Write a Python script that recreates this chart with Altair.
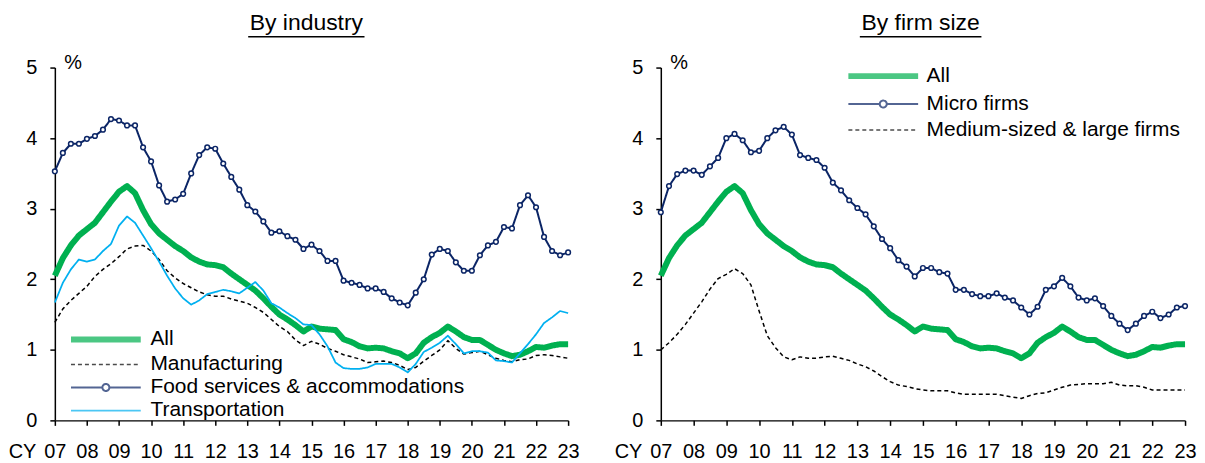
import altair as alt
import pandas as pd

FONT = "Liberation Sans"
GREEN = "#00B050"
NAVY = "#0B2566"
LIGHTBLUE = "#00B0F0"
BLACK = "#000000"

START_YEAR = 2007
year_ticks = list(range(2007, 2024))

# Quarterly values, CY2007 .. CY2023 (65 quarters)
all_firms = [2.05, 2.30, 2.48, 2.62, 2.71, 2.80, 2.95, 3.10, 3.24, 3.32,
             3.22, 2.98, 2.78, 2.65, 2.56, 2.47, 2.40, 2.31, 2.25, 2.21,
             2.20, 2.17, 2.08, 2.00, 1.92, 1.84, 1.73, 1.61, 1.50, 1.43,
             1.35, 1.26, 1.33, 1.30, 1.29, 1.28, 1.15, 1.11, 1.05, 1.02,
             1.03, 1.02, 0.98, 0.95, 0.88, 0.95, 1.10, 1.18, 1.24, 1.33,
             1.26, 1.18, 1.14, 1.14, 1.07, 1.00, 0.95, 0.91, 0.93, 0.98,
             1.04, 1.03, 1.06, 1.08, 1.08]
manufacturing = [1.39, 1.58, 1.70, 1.80, 1.90, 2.04, 2.14, 2.22, 2.32, 2.43,
                 2.47, 2.48, 2.40, 2.28, 2.12, 2.02, 1.94, 1.88, 1.82, 1.78,
                 1.76, 1.76, 1.72, 1.69, 1.66, 1.60, 1.53, 1.43, 1.33, 1.26,
                 1.14, 1.06, 1.12, 1.08, 1.02, 0.98, 0.93, 0.90, 0.87, 0.82,
                 0.83, 0.84, 0.82, 0.78, 0.72, 0.75, 0.84, 0.92, 1.00, 1.13,
                 1.02, 0.94, 0.96, 0.98, 0.93, 0.88, 0.85, 0.83, 0.86, 0.87,
                 0.92, 0.93, 0.92, 0.90, 0.88]
food_services = [3.53, 3.79, 3.92, 3.92, 3.99, 4.03, 4.12, 4.27, 4.25, 4.18,
                 4.18, 3.87, 3.67, 3.33, 3.10, 3.13, 3.21, 3.50, 3.76, 3.87,
                 3.85, 3.64, 3.45, 3.27, 3.05, 2.96, 2.82, 2.66, 2.68, 2.61,
                 2.56, 2.43, 2.49, 2.40, 2.26, 2.26, 1.98, 1.95, 1.92, 1.87,
                 1.87, 1.82, 1.73, 1.67, 1.63, 1.81, 2.00, 2.35, 2.43, 2.40,
                 2.24, 2.12, 2.12, 2.34, 2.48, 2.53, 2.74, 2.72, 3.05, 3.19,
                 3.02, 2.60, 2.40, 2.34, 2.38]
transportation = [1.67, 1.95, 2.14, 2.28, 2.25, 2.28, 2.40, 2.50, 2.76, 2.89,
                  2.80, 2.62, 2.44, 2.25, 2.05, 1.87, 1.73, 1.64, 1.70, 1.79,
                  1.82, 1.85, 1.83, 1.80, 1.88, 1.96, 1.84, 1.66, 1.60, 1.52,
                  1.45, 1.36, 1.35, 1.22, 1.05, 0.82, 0.74, 0.73, 0.73, 0.75,
                  0.80, 0.80, 0.80, 0.75, 0.68, 0.80, 0.97, 1.03, 1.10, 1.20,
                  1.08, 0.95, 0.98, 0.98, 0.96, 0.85, 0.84, 0.82, 0.95, 1.08,
                  1.22, 1.38, 1.46, 1.55, 1.52]
micro_firms = [2.95, 3.32, 3.49, 3.54, 3.54, 3.48, 3.60, 3.72, 4.00, 4.06,
               3.97, 3.80, 3.82, 4.00, 4.11, 4.16, 4.05, 3.76, 3.72, 3.69,
               3.58, 3.37, 3.26, 3.12, 3.01, 2.92, 2.75, 2.57, 2.44, 2.27,
               2.18, 2.04, 2.16, 2.16, 2.10, 2.08, 1.85, 1.85, 1.79, 1.76,
               1.76, 1.80, 1.74, 1.70, 1.60, 1.50, 1.61, 1.85, 1.90, 2.02,
               1.90, 1.74, 1.70, 1.73, 1.62, 1.48, 1.37, 1.28, 1.37, 1.48,
               1.54, 1.45, 1.50, 1.60, 1.62]
medium_large = [1.00, 1.10, 1.22, 1.36, 1.52, 1.68, 1.86, 2.01, 2.07, 2.15,
                2.08, 1.92, 1.55, 1.20, 1.03, 0.90, 0.86, 0.90, 0.88, 0.88,
                0.90, 0.91, 0.88, 0.85, 0.80, 0.76, 0.70, 0.62, 0.55, 0.50,
                0.48, 0.45, 0.43, 0.42, 0.42, 0.42, 0.39, 0.37, 0.37, 0.37,
                0.37, 0.37, 0.35, 0.33, 0.31, 0.35, 0.38, 0.39, 0.43, 0.47,
                0.50, 0.51, 0.52, 0.52, 0.52, 0.54, 0.50, 0.49, 0.49, 0.47,
                0.43, 0.43, 0.43, 0.43, 0.43]

industry_names = ["All", "Manufacturing", "Food services & accommodations", "Transportation"]
size_names = ["All", "Micro firms", "Medium-sized & large firms"]

LINE_PATH = "M-5,0H5"
MARKER_PATH = "M-5,0H-0.5M0.5,0H5M-0.5,0A0.5,0.5,0,1,1,0.5,0A0.5,0.5,0,1,1,-0.5,0"

PLOT_H = 354
TITLE_Y = -38
UNDERLINE_Y = -31


def long_df(names, arrays):
    rows = []
    for name, arr in zip(names, arrays):
        for i, v in enumerate(arr):
            rows.append({"t": START_YEAR + i / 4, "series": name, "value": v})
    return pd.DataFrame(rows)


def panel(df, names, colors, dashes, widths, paths, marker_series, width,
          title_text, title_x, ul_x, legend_x, legend_y, row_pad, label_offset):
    legend = alt.Legend(orient="none", legendX=legend_x, legendY=legend_y, title=None,
                        labelFontSize=21, labelFont=FONT, labelColor="black", labelLimit=0,
                        symbolSize=196, rowPadding=row_pad, labelOffset=label_offset,
                        padding=0, symbolFillColor="white")
    x = alt.X("t:Q", scale=alt.Scale(domain=[2007, 2023], nice=False, zero=False),
              axis=alt.Axis(values=year_ticks, labelExpr="substring(toString(datum.value), 2)",
                            title="CY", titleX=-19, titleY=21, titleAlign="right",
                            titleBaseline="top", titleFontSize=20, titleFontWeight="normal",
                            titleFont=FONT, titleColor="black", labelFontSize=20, labelFont=FONT,
                            labelColor="black", labelPadding=16, tickSize=5, tickColor="black",
                            domainColor="black", domainWidth=1.5, tickWidth=1.5, grid=False,
                            labelFlush=False, labelOverlap=False))
    y = alt.Y("value:Q", scale=alt.Scale(domain=[0, 5], nice=False, zero=True),
              axis=alt.Axis(values=[0, 1, 2, 3, 4, 5], title="%", titleAngle=0, titleX=9,
                            titleY=1, titleAlign="left", titleBaseline="alphabetic",
                            titleFontSize=20, titleFontWeight="normal", titleFont=FONT,
                            titleColor="black", labelFontSize=20, labelFont=FONT,
                            labelColor="black", labelPadding=13, tickSize=5, tickColor="black",
                            domainColor="black", domainWidth=1.5, tickWidth=1.5, grid=False))
    color = alt.Color("series:N", scale=alt.Scale(domain=names, range=colors), legend=legend)
    dash = alt.StrokeDash("series:N", scale=alt.Scale(domain=names, range=dashes), legend=legend)
    sw = alt.StrokeWidth("series:N", scale=alt.Scale(type="ordinal", domain=names, range=widths),
                         legend=legend)
    shape = alt.Shape("series:N", scale=alt.Scale(domain=names, range=paths), legend=legend)

    base = alt.Chart(df).encode(x=x, y=y, color=color, strokeDash=dash, strokeWidth=sw)
    lines = [base.transform_filter(alt.datum.series == n).mark_line(strokeJoin="round")
             for n in names]
    markers = (alt.Chart(df).transform_filter(alt.datum.series == marker_series)
               .mark_point(shape="circle", filled=True, fill="white", stroke=NAVY,
                           strokeWidth=1.5, size=22, opacity=1)
               .encode(x=x, y=y))
    shape_layer = (alt.Chart(df).transform_filter("false").mark_point(filled=False)
                   .encode(x=x, y=y, shape=shape))
    title = (alt.Chart(pd.DataFrame({"label": [title_text]}))
             .mark_text(fontSize=23, font=FONT, align="center", baseline="alphabetic", color="black")
             .encode(text="label:N", x=alt.value(title_x), y=alt.value(TITLE_Y)))
    ul = (alt.Chart(pd.DataFrame({"a": [0]}))
          .mark_rule(color="black", strokeWidth=1.5)
          .encode(x=alt.value(ul_x[0]), x2=alt.value(ul_x[1]), y=alt.value(UNDERLINE_Y)))
    return alt.layer(*lines, markers, shape_layer, title, ul).properties(width=width, height=PLOT_H)


left_df = long_df(industry_names, [all_firms, manufacturing, food_services, transportation])
right_df = long_df(size_names, [all_firms, micro_firms, medium_large])

left = panel(left_df, industry_names,
             [GREEN, BLACK, NAVY, LIGHTBLUE],
             [[1, 0], [4, 3], [1, 0], [1, 0]],
             [6, 1.5, 2, 1.75],
             [LINE_PATH, LINE_PATH, MARKER_PATH, LINE_PATH],
             "Food services & accommodations", 515,
             "By industry", 252.4, (194, 310.7), 40.7, 262.3, 1.1, 34.2)
right = panel(right_df, size_names,
              [GREEN, NAVY, BLACK],
              [[1, 0], [1, 0], [4, 3]],
              [6, 2, 1.5],
              [LINE_PATH, MARKER_PATH, LINE_PATH],
              "Micro firms", 526,
              "By firm size", 260.7, (199.7, 321.7), 212.7, -1.9, 4.0, 33)

chart = (alt.hconcat(left, right, spacing=34)
         .resolve_scale(color="independent", strokeDash="independent",
                        strokeWidth="independent", shape="independent",
                        x="independent", y="independent")
         .resolve_legend(color="independent", strokeDash="independent",
                         strokeWidth="independent", shape="independent")
         .properties(padding={"left": 0, "top": 3, "right": 0, "bottom": 0})
         .configure(font=FONT)
         .configure_view(stroke=None))

chart.save("out.html", embed_options={"renderer": "svg", "actions": False})
